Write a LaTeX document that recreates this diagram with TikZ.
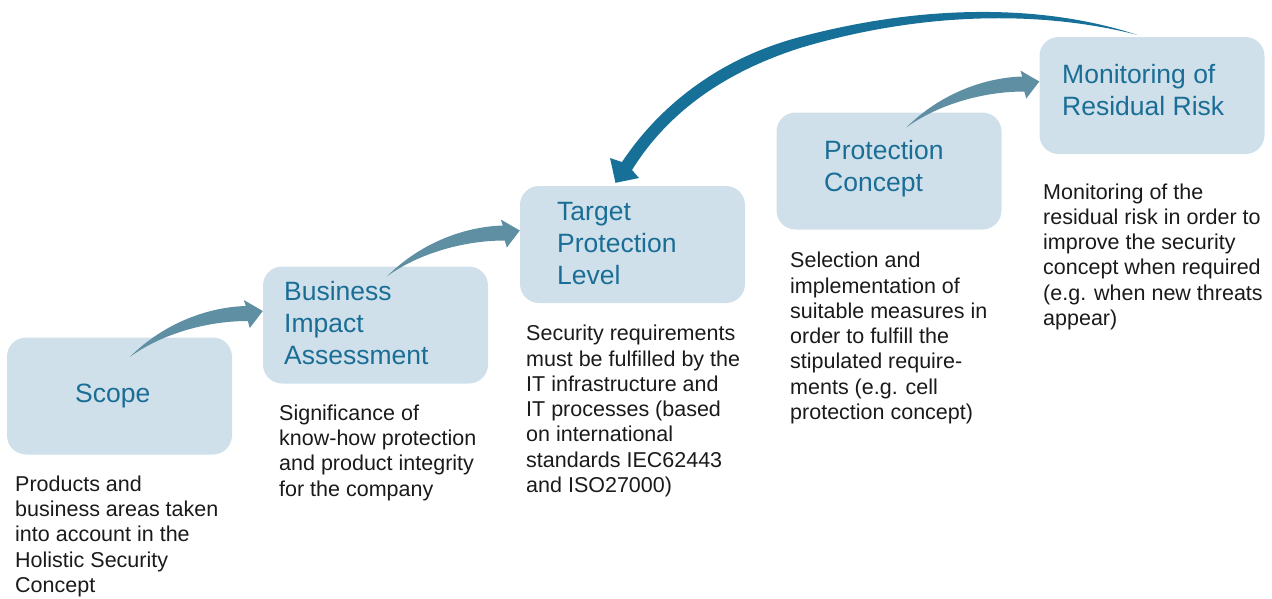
\documentclass[tikz,border=0pt]{standalone}
\usepackage{fontspec}
\setmainfont{Liberation Sans}
\usetikzlibrary{calc}

\definecolor{boxfill}{RGB}{208,224,234}
\definecolor{titleblue}{RGB}{26,110,150}
\definecolor{flowblue}{RGB}{95,143,163}
\definecolor{backblue}{RGB}{23,112,152}
\definecolor{notetext}{RGB}{26,26,26}

\begin{document}
\begin{tikzpicture}
  [x=1pt,y=-1pt,every node/.style={inner sep=0pt},
   stagebox/.style={fill=boxfill,rounded corners=19pt,minimum width=225pt,minimum height=117pt},
   stagetitle/.style={anchor=base west,align=left,text=titleblue,font=\fontsize{26.5}{32}\selectfont},
   note/.style={anchor=base west,align=left,text=notetext,font=\fontsize{21.5}{25.3}\selectfont},
   flow/.style={fill=flowblue},
   backflow/.style={fill=backblue}]
  \useasboundingbox (0,0) rectangle (1272,598);

  % stages (placed at the baseline of their last line)
  \node [stagebox] (scope) at (119.5,396) {};
  \node [stagebox] (bia) at (375.5,325) {};
  \node [stagebox] (target) at (632.5,244.5) {};
  \node [stagebox] (prot) at (889,171) {};
  \node [stagebox] (monitor) at (1152,95.5) {};

  \node [stagetitle] (scopet) at (75,402) {Scope};
  \node [stagetitle] (biat) at (284,364.5) {Business\\Impact\\Assessment};
  \node [stagetitle] (targett) at (557,284) {Target\\Protection\\Level};
  \node [stagetitle] (prott) at (824,191.5) {Protection\\Concept};
  \node [stagetitle] (monitort) at (1062,115.5) {Monitoring of\\Residual Risk};

  % notes
  \node [note] (scopen) at (15,592.5) {Products and\\business areas taken\\into account in the\\Holistic Security\\Concept};
  \node [note] (bian) at (279,496) {Significance of\\know-how protection\\and product integrity\\for the company};
  \node [note] (targetn) at (526,492.5) {Security requirements\\must be fulfilled by the\\IT infrastructure and\\IT processes (based\\on international\\standards IEC62443\\and ISO27000)};
  \node [note] (protn) at (790,419.5) {Selection and\\implementation of\\suitable measures in\\order to fulfill the\\stipulated require-\\ments (e.g. cell\\protection concept)};
  \node [note] (monitorn) at (1043,325.5) {Monitoring of the\\residual risk in order to\\improve the security\\concept when required\\(e.g. when new threats\\appear)};

  \foreach \from/\to in {scope/bia,bia/target,prot/monitor}
    \fill [flow,shift={($(\to.west)+(-133,32)$)}]
      (0,0) .. controls (35,-35) and (80,-50) .. (116,-51) -- (114,-57) -- (133,-46)
      -- (120,-29) -- (118,-36) .. controls (75,-36) and (30,-22) .. cycle;

  \coordinate (backstart) at ($(monitor.north)+(-15,-2)$);
  \coordinate (backend) at ($(target.north)+(-17,-3)$);
  \fill [backflow] (backstart) .. controls (1040,3) and (920,5) .. (800,37)
    .. controls (720,58) and (660,105) .. (622,162) -- (610,158) -- (backend)
    -- (639,178) -- (632,170) .. controls (668,112) and (725,72) .. (800,48)
    .. controls (920,12) and (1040,10) .. cycle;

\end{tikzpicture}
\end{document}
